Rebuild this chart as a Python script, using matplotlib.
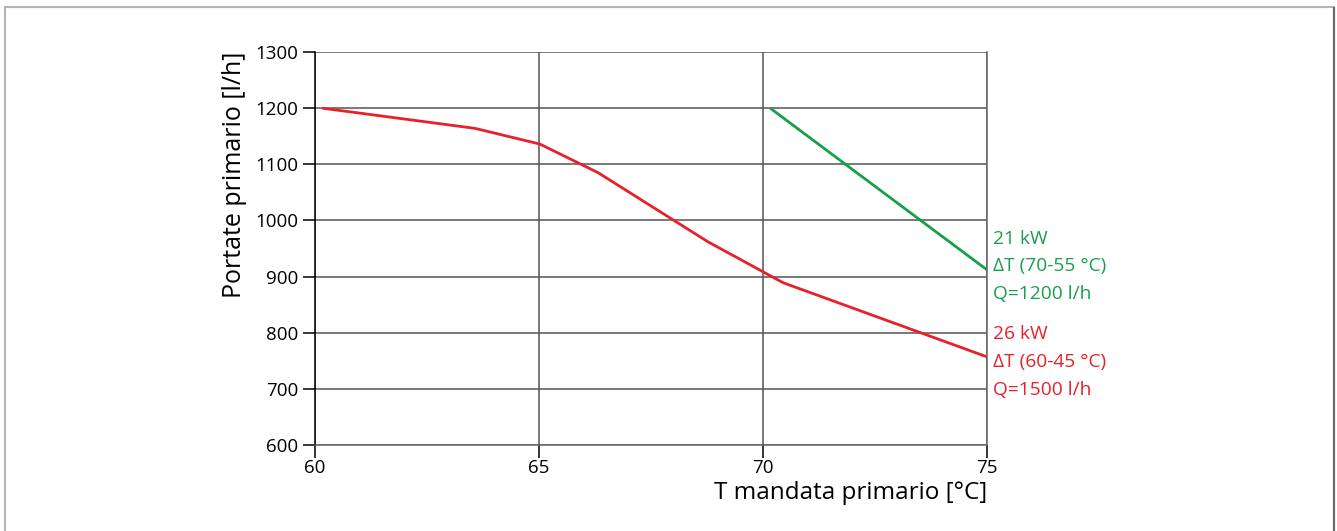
import matplotlib
matplotlib.use("Agg")
import matplotlib.pyplot as plt
from matplotlib.patches import Rectangle

plt.rcParams['font.family'] = ['Open Sans', 'DejaVu Sans']

# Data
red_x = [60.16, 63.57, 65.02, 66.32, 68.77, 70.45, 75.0]
red_y = [1200, 1164, 1136, 1085, 962, 889, 757]
green_x = [70.16, 75.0]
green_y = [1200, 912]
x_ticks = [60, 65, 70, 75]
y_ticks = [600, 700, 800, 900, 1000, 1100, 1200, 1300]
green_label = ["21 kW", "ΔT (70-55 °C)", "Q=1200 l/h"]
red_label = ["26 kW", "ΔT (60-45 °C)", "Q=1500 l/h"]

RED = "#e8202a"
GREEN = "#16a04b"

fig = plt.figure(figsize=(13.37, 5.31), dpi=100)
W, H = 1337, 531
ax = fig.add_axes([315 / W, 1 - 445 / H, (987 - 315) / W, (445 - 52) / H])

# figure frame
fig.patches.append(Rectangle((4.5 / W, -0.1), (1334 - 4.5) / W, 1 - 6.5 / H + 0.1,
                             transform=fig.transFigure, fill=False,
                             edgecolor="#b5b5b5", linewidth=1.5))
fig.patches.append(Rectangle((1333.5 / W, -0.1), 0.0, 1 - 6.5 / H + 0.1,
                             transform=fig.transFigure, fill=False,
                             edgecolor="#6a6a6a", linewidth=1.5))

ax.set_xlim(60, 75)
ax.set_ylim(600, 1300)
ax.set_xticks(x_ticks)
ax.set_yticks(y_ticks)
ax.grid(True, color="#555555", linewidth=1.1)
ax.set_axisbelow(True)
ax.spines["top"].set_visible(False)
ax.spines["left"].set_color("black")
ax.spines["left"].set_linewidth(1.1)
ax.spines["bottom"].set_color("#666666")
ax.spines["bottom"].set_linewidth(1.1)
ax.spines["right"].set_color("#666666")
ax.spines["right"].set_linewidth(1.1)
ax.tick_params(axis="both", direction="out", length=9, width=1.1, labelsize=13.5, colors="black")
ax.tick_params(axis="x", pad=1)
ax.tick_params(axis="y", pad=3)

ax.plot(red_x, red_y, color=RED, linewidth=2, solid_capstyle="butt")
ax.plot(green_x, green_y, color=GREEN, linewidth=2, solid_capstyle="butt")

ax.set_xlabel("T mandata primario [°C]", fontsize=17.5, loc="right", labelpad=3)
ax.set_ylabel("Portate primario [l/h]", fontsize=18, loc="top", labelpad=6)

ax.text(1.009, 0.548, "\n".join(green_label), transform=ax.transAxes, color=GREEN,
        fontsize=13.8, va="top", ha="left", linespacing=1.7)
ax.text(1.009, 0.305, "\n".join(red_label), transform=ax.transAxes, color=RED,
        fontsize=13.8, va="top", ha="left", linespacing=1.7)

fig.savefig("out.png", dpi=100)
